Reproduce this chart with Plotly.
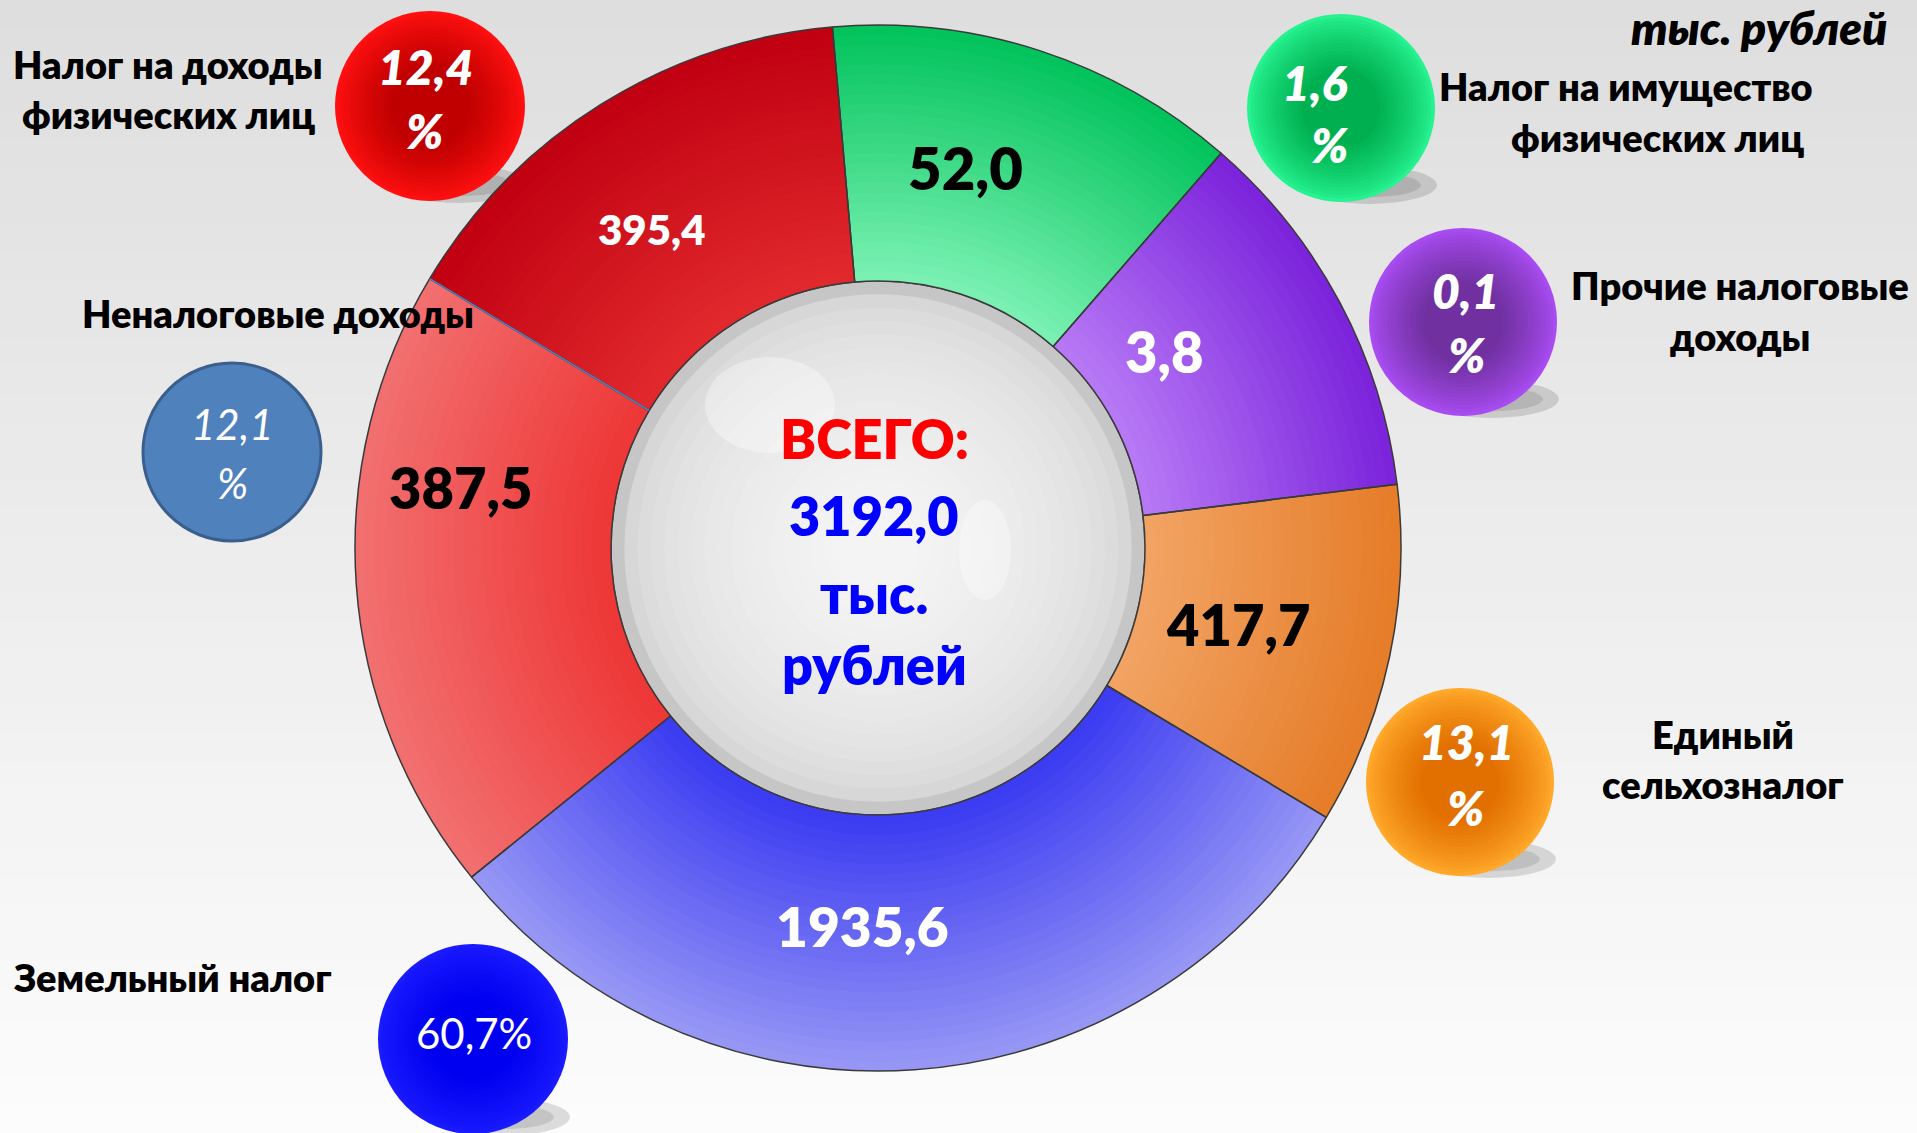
import math
import plotly.graph_objects as go

W, H = 1917, 1133

# ---------------- data ----------------
categories = ["Налог на имущество физических лиц", "Прочие налоговые доходы",
              "Единый сельхозналог", "Земельный налог",
              "Неналоговые доходы", "Налог на доходы физических лиц"]
values = [52.0, 3.8, 417.7, 1935.6, 387.5, 395.4]          # тыс. рублей
shares = [1.6, 0.1, 13.1, 60.7, 12.1, 12.4]                 # %
slice_arc_deg = [46, 42, 38, 110, 70, 54]                   # slice sizes as drawn in the picture
total_value = 3192.0
unit_label = "тыс. рублей"
center_title = "ВСЕГО:"
center_unit = ["тыс.", "рублей"]


def fmt(v):
    return f"{v:.1f}".replace(".", ",")


FONT = "Lato, 'Noto Sans', sans-serif"

# ---------------- styles / layout ----------------
outer_cols = ["#00C25A", "#7A22DA", "#E57C28", "#9898F5", "#F27070", "#C00010"]
inner_cols = ["#7CF2B4", "#B87AF6", "#F2A464", "#3A3AF2", "#EE3636", "#E22A2E"]
val_text_col = ["black", "white", "black", "white", "black", "white"]
val_text_size = [58, 56, 56, 55, 56, 42]
val_text_xy = [(966, 167), (1164, 352), (1238, 624), (862, 926), (460, 487), (652, 229)]

CX, CY, R_OUT, R_IN = 878, 548, 523, 267
ROT = -5


def hex2rgb(h):
    h = h.lstrip("#")
    return tuple(int(h[i:i + 2], 16) for i in (0, 2, 4))


def mix(a, b, t):
    ra, rb = hex2rgb(a), hex2rgb(b)
    return "rgb(%d,%d,%d)" % tuple(round(ra[i] + (rb[i] - ra[i]) * t) for i in range(3))


def X(x):
    return x / W


def Y(y):
    return 1 - y / H


def dom(r):
    return dict(x=[X(CX - r), X(CX + r)], y=[Y(CY + r), Y(CY - r)])


def ellipse(cx, cy, rx, ry, fill, line=None, lw=0, layer="below"):
    return dict(type="circle", xref="paper", yref="paper",
                x0=X(cx - rx), x1=X(cx + rx), y0=Y(cy + ry), y1=Y(cy - ry),
                fillcolor=fill, line=dict(color=line or "rgba(0,0,0,0)", width=lw),
                layer=layer)


fig = go.Figure()

# ring layers to imitate shading (outer drawn first)
N = 26
for k in range(N - 1, -1, -1):
    r1 = R_IN + (R_OUT - R_IN) * (k + 1) / N
    t = (k + 0.5) / N
    cols = [mix(inner_cols[i], outer_cols[i], t) for i in range(len(values))]
    fig.add_trace(go.Pie(values=slice_arc_deg, labels=categories, sort=False,
                         direction="clockwise", rotation=ROT,
                         hole=R_IN / r1, domain=dom(r1),
                         marker=dict(colors=cols, line=dict(width=0)),
                         textinfo="none", hoverinfo="skip", showlegend=False))

# top trace: outlines
fig.add_trace(go.Pie(values=slice_arc_deg, labels=categories, sort=False,
                     direction="clockwise", rotation=ROT,
                     hole=R_IN / R_OUT, domain=dom(R_OUT),
                     customdata=[fmt(v) for v in values],
                     textinfo="none",
                     hovertemplate="%{label}: %{customdata}<extra></extra>",
                     marker=dict(colors=["rgba(0,0,0,0)"] * len(values),
                                 line=dict(color="#3a3a3a", width=1.5)),
                     showlegend=False))

shapes = []
# background vertical gradient
NB = 40
for i in range(NB):
    shapes.append(dict(type="rect", xref="paper", yref="paper", x0=0, x1=1,
                       y0=1 - (i + 1) / NB, y1=1 - i / NB + 0.002,
                       fillcolor=mix("#DEDEDE", "#FCFCFC", i / (NB - 1)),
                       line=dict(width=0), layer="below"))


# percentage bubbles
def bubble(cx, cy, r, edge, center, shadow=True):
    out = []
    if shadow:
        out.append(ellipse(cx + 0.3 * r, cy + 0.82 * r, 0.72 * r, 0.2 * r,
                           "rgba(0,0,0,0.13)", layer="below"))
        out.append(ellipse(cx + 0.3 * r, cy + 0.82 * r, 0.55 * r, 0.13 * r,
                           "rgba(0,0,0,0.10)", layer="below"))
    steps = 16
    for i in range(steps):
        f = 1 - i / steps * 0.62
        out.append(ellipse(cx, cy, r * f, r * f, mix(edge, center, (i / (steps - 1)) ** 0.8), layer="above"))
    return out


bub = []
bub += bubble(430, 106, 95, "#FF1010", "#C00000")
bub += bubble(1341, 108, 94, "#26F290", "#00B050")
bub += bubble(1463, 322, 94, "#A84CF2", "#7030A0")
bub += bubble(1460, 782, 94, "#FFA82A", "#E27000")
bub += bubble(473, 1039, 95, "#1A1AFF", "#0000F0")
bub.append(ellipse(232, 452, 89, 89, "#4F81BD", "#3A5F8C", 3, layer="above"))
shapes += [s for s in bub if s["layer"] == "below"]

# central sphere
NS = 18
for i in range(NS):
    f = 1 - i / NS * 0.9
    shapes.append(ellipse(CX, CY, R_IN * f, R_IN * f,
                          mix("#C6C6C6", "#F4F4F4", (i / (NS - 1)) ** 0.35)))
shapes.append(ellipse(CX, CY, R_IN, R_IN, "rgba(0,0,0,0)", "#4a4a4a", 1.5))
shapes.append(ellipse(770, 405, 65, 48, "rgba(255,255,255,0.35)"))
shapes.append(ellipse(985, 550, 26, 50, "rgba(255,255,255,0.35)"))

# separator between the two red slices
th = math.radians(ROT + sum(slice_arc_deg[:5]))
shapes.append(dict(type="line", xref="paper", yref="paper",
                   x0=X(CX + R_OUT * math.sin(th)), y0=Y(CY - R_OUT * math.cos(th)),
                   x1=X(CX + R_IN * math.sin(th)), y1=Y(CY - R_IN * math.cos(th)),
                   line=dict(color="#4F81BD", width=1.5), layer="above"))

shapes += [s for s in bub if s["layer"] == "above"]

annotations = []


def txt(x, y, s, size, color="black", weight=800, italic=False, xanchor="center"):
    if italic:
        s = "<i>" + s + "</i>"
    annotations.append(dict(x=X(x), y=Y(y), xref="paper", yref="paper", text=s,
                            showarrow=False, xanchor=xanchor, yanchor="middle",
                            font=dict(family=FONT, size=size, color=color, weight=weight)))


# slice values
for i, v in enumerate(values):
    txt(val_text_xy[i][0], val_text_xy[i][1], fmt(v), val_text_size[i], val_text_col[i])

# center text
txt(874, 438, center_title, 54, "#FF0000")
txt(874, 516, fmt(total_value), 54, "#0000FF")
txt(874, 593, center_unit[0], 54, "#0000FF")
txt(874, 664, center_unit[1], 54, "#0000FF")

# unit label
txt(1889, 27, unit_label, 46, "black", italic=True, xanchor="right")

# category labels
LS = 38
txt(168, 64, "Налог на доходы", LS)
txt(168, 114, "физических лиц", LS)
txt(1626, 86, "Налог на имущество", LS)
txt(1657, 137, "физических лиц", LS)
txt(1740, 285, "Прочие налоговые", LS)
txt(1740, 336, "доходы", LS)
txt(278, 313, "Неналоговые доходы", LS)
txt(1723, 734, "Единый", LS)
txt(1723, 784, "сельхозналог", LS)
txt(172, 977, "Земельный налог", LS)

# bubble percentages
txt(425, 67, fmt(shares[5]), 48, "white", italic=True)
txt(425, 131, "%", 48, "white", italic=True)
txt(1315, 82, fmt(shares[0]), 48, "white", italic=True)
txt(1330, 144, "%", 48, "white", italic=True)
txt(1465, 291, fmt(shares[1]), 48, "white", italic=True)
txt(1467, 355, "%", 48, "white", italic=True)
txt(1466, 741, fmt(shares[2]), 48, "white", italic=True)
txt(1466, 807, "%", 48, "white", italic=True)
txt(232, 424, fmt(shares[4]), 42, "white", weight=400, italic=True)
txt(232, 483, "%", 42, "white", weight=400, italic=True)
txt(474, 1033, fmt(shares[3]) + "%", 42, "white", weight=400)

fig.update_layout(width=W, height=H, margin=dict(l=0, r=0, t=0, b=0),
                  paper_bgcolor="#EEEEEE", plot_bgcolor="#EEEEEE",
                  shapes=shapes, annotations=annotations, showlegend=False,
                  font=dict(family=FONT))

fig.write_html("out.html", config={"displayModeBar": False},
               post_script="document.body.style.margin='0';document.body.style.overflow='hidden';")
